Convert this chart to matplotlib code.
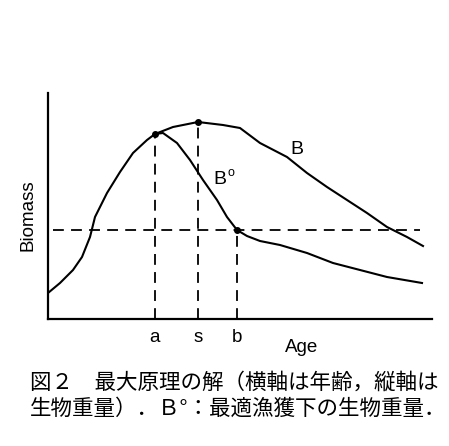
import matplotlib
matplotlib.use("Agg")
import matplotlib.pyplot as plt

# --- data (x = age, y = biomass, arbitrary units) ---
b_age = [0, 12, 25, 34, 42, 47, 59, 72, 85, 99, 107, 125, 150, 175, 192, 212, 239,
         259, 279, 299, 319, 339, 359, 375]
b_mass = [26, 36, 49, 62, 82, 102, 126, 147, 166, 179, 185, 192, 197, 194, 191, 176, 162,
          146, 132, 119, 106, 92, 82, 73]

bo_age = [107, 115, 129, 142, 155, 169, 179, 189, 199, 212, 232, 259, 285, 312, 339, 374]
bo_mass = [185, 186, 176, 159, 139, 119, 102, 89, 83, 78, 74, 66, 56, 49, 42, 36]

mark_ages = [107, 150, 189]
mark_mass = [185, 197, 89]
mark_labels = ["a", "s", "b"]
threshold = 89

caption = ["図２　最大原理の解（横軸は年齢，縦軸は", "生物重量）．Ｂ°：最適漁獲下の生物重量．"]

fig = plt.figure(figsize=(4.49, 4.46), dpi=100)
W, H = 449, 446
ax = fig.add_axes([48 / W, (H - 319) / H, (432 - 48) / W, (319 - 93) / H])
ax.set_xlim(0, 384)
ax.set_ylim(0, 226)

ax.plot(b_age, b_mass, color="black", lw=1.5)
ax.plot(bo_age, bo_mass, color="black", lw=1.5)

ax.plot([5, 372], [threshold, threshold], color="black", lw=1.3, dashes=(6, 4))
for xa, ya in zip(mark_ages, mark_mass):
    ax.plot([xa, xa], [0, ya], color="black", lw=1.3, dashes=(6, 4))
ax.plot(mark_ages, mark_mass, "o", color="black", ms=4)

for xa, lab in zip(mark_ages, mark_labels):
    ax.text(xa, -19, lab, ha="center", va="center", fontsize=13.5, family="Liberation Sans")

ax.text(249, 170, "B", fontsize=14, ha="center", va="center", family="Liberation Sans")
ax.text(172, 140, "B", fontsize=14, ha="center", va="center", family="Liberation Sans")
ax.text(180, 146, "o", fontsize=9, ha="left", va="center", family="Liberation Sans")
ax.text(254, -29, "Age", fontsize=13.5, ha="center", va="center", family="Liberation Sans")
ax.text(-20, 104, "Biomass", fontsize=13.5, rotation=90, ha="center", va="center",
        family="Liberation Sans")

for s in ["top", "right"]:
    ax.spines[s].set_visible(False)
for s in ["left", "bottom"]:
    ax.spines[s].set_linewidth(1.6)
ax.set_xticks([])
ax.set_yticks([])

fig.text(30 / W, 1 - 383 / H, caption[0], fontsize=15.5, va="center",
         family=["Noto Sans CJK JP", "DejaVu Sans"])
fig.text(30 / W, 1 - 409 / H, caption[1], fontsize=15.5, va="center",
         family=["Noto Sans CJK JP", "DejaVu Sans"])

fig.savefig("out.png", dpi=100)
